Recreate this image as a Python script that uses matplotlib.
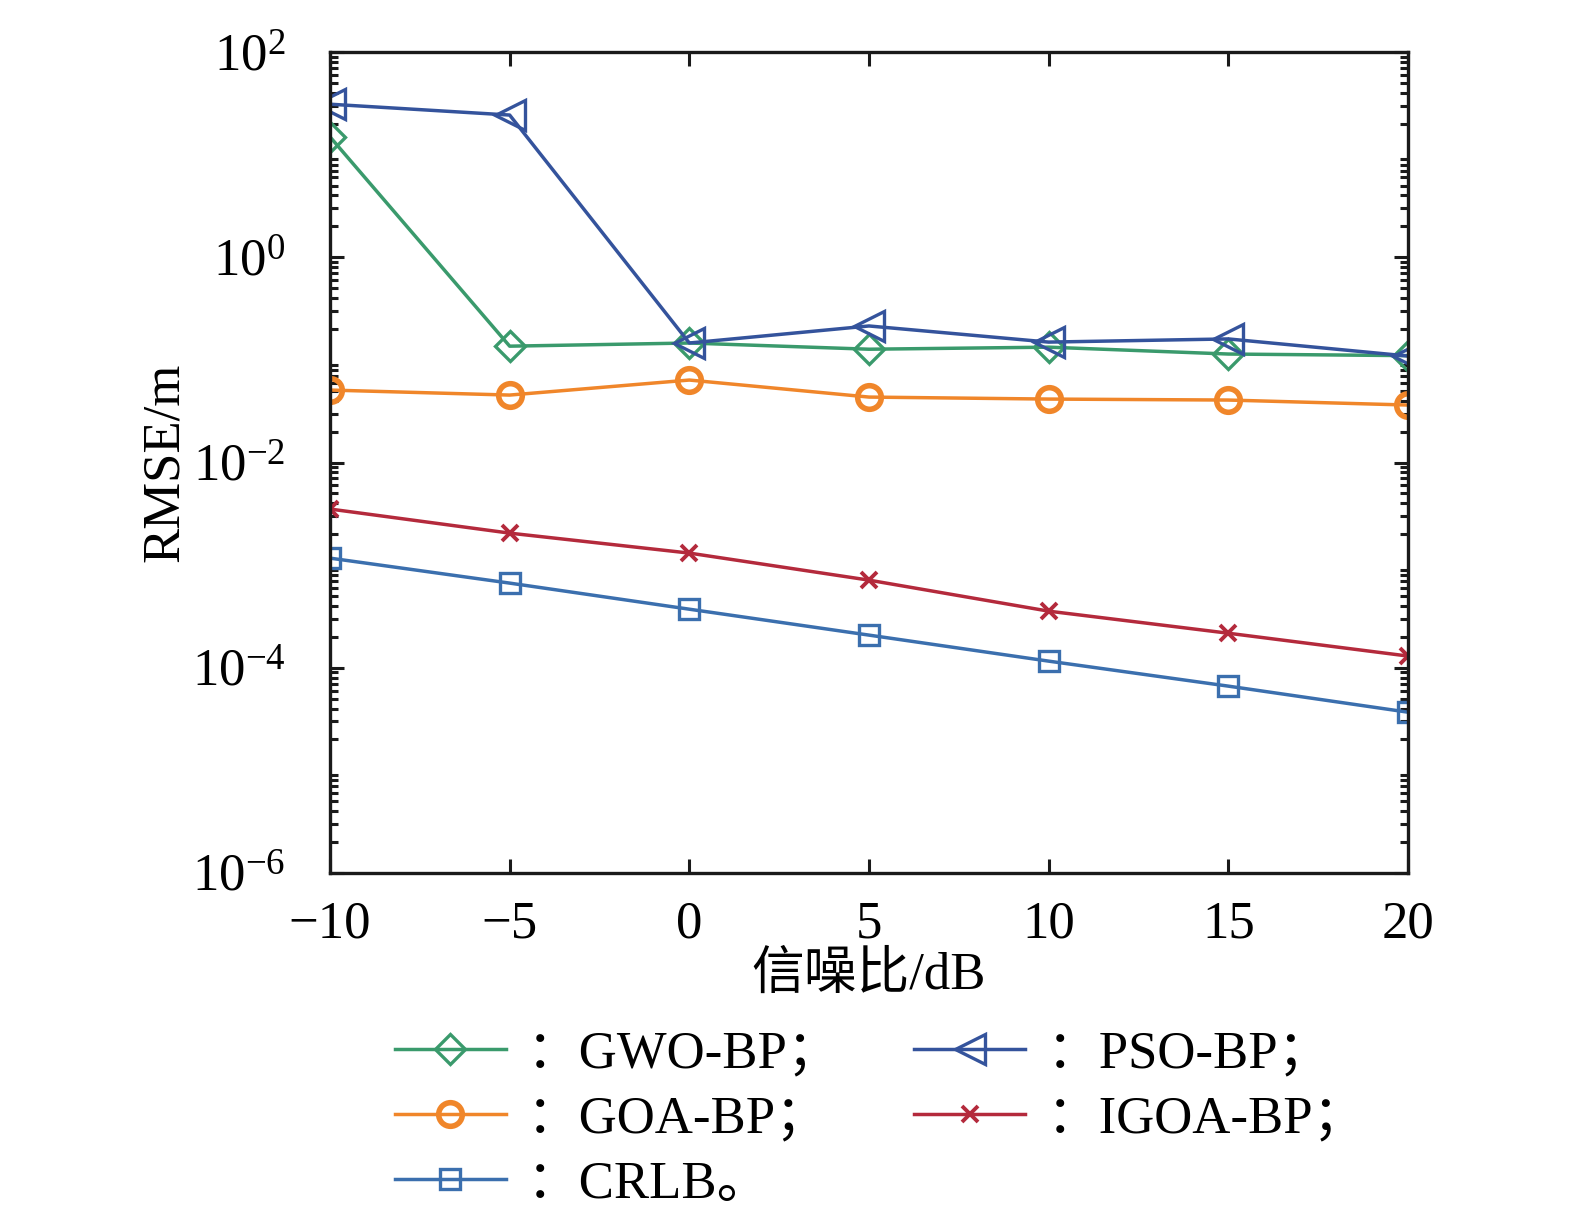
import matplotlib
matplotlib.use("Agg")
import matplotlib.pyplot as plt
from matplotlib.ticker import LogLocator, NullFormatter, FixedLocator

plt.rcParams['font.family'] = ['Liberation Serif', 'Noto Sans CJK SC', 'DejaVu Sans']
plt.rcParams['mathtext.fontset'] = 'custom'
plt.rcParams['mathtext.rm'] = 'Liberation Serif'
plt.rcParams['mathtext.it'] = 'Liberation Serif:italic'
plt.rcParams['axes.unicode_minus'] = True

snr = [-10, -5, 0, 5, 10, 15, 20]
gwo = [14.9, 0.136, 0.146, 0.127, 0.133, 0.114, 0.110]
pso = [31.0, 24.3, 0.146, 0.214, 0.149, 0.160, 0.109]
goa = [0.0508, 0.0454, 0.0636, 0.0434, 0.0415, 0.0406, 0.0363]
igoa = [0.00352, 0.00205, 0.00131, 0.000714, 0.000356, 0.000217, 0.000130]
crlb = [0.00117, 0.000668, 0.000372, 0.000208, 0.000116, 0.0000662, 0.0000369]
xticks = [-10, -5, 0, 5, 10, 15, 20]
xticklabels = ['\u221210', '\u22125', '0', '5', '10', '15', '20']
yticks = [1e-6, 1e-4, 1e-2, 1e0, 1e2]
yticklabels = [r'$10^{-6}$', r'$10^{-4}$', r'$10^{-2}$', r'$10^{0}$', r'$10^{2}$']

c_gwo = '#3a9a6c'
c_pso = '#34539c'
c_goa = '#f0862a'
c_igoa = '#b42a3c'
c_crlb = '#3b6fae'

fig = plt.figure(figsize=(15.75, 12.08), dpi=100)
ax = fig.add_axes([330/1575, 1-873/1208, (1408-330)/1575, (873-52)/1208])

lw = 2.5
h_gwo, = ax.plot(snr, gwo, color=c_gwo, lw=lw, marker='D', ms=15, mfc='none', mec=c_gwo, mew=2.4)
h_pso, = ax.plot(snr, pso, color=c_pso, lw=lw, marker='<', ms=22, mfc='none', mec=c_pso, mew=2.4)
h_goa, = ax.plot(snr, goa, color=c_goa, lw=lw, marker='o', ms=17, mfc='none', mec=c_goa, mew=4.0)
h_igoa, = ax.plot(snr, igoa, color=c_igoa, lw=lw, marker='x', ms=11, mfc='none', mec=c_igoa, mew=2.8)
h_crlb, = ax.plot(snr, crlb, color=c_crlb, lw=lw, marker='s', ms=14, mfc='none', mec=c_crlb, mew=2.4)

ax.set_yscale('log')
ax.set_xlim(-10, 20)
ax.set_ylim(1e-6, 1e2)
ax.xaxis.set_major_locator(FixedLocator(xticks))
ax.set_xticklabels(xticklabels)
ax.yaxis.set_major_locator(FixedLocator(yticks))
ax.set_yticklabels(yticklabels)
ax.yaxis.set_minor_locator(LogLocator(base=10, subs=range(2, 10), numticks=100))
ax.yaxis.set_minor_formatter(NullFormatter())

for s in ax.spines.values():
    s.set_linewidth(2.4)
    s.set_color('#1a1a1a')
ax.tick_params(which='both', direction='in', top=True, right=True, width=2.2, color='#1a1a1a')
ax.tick_params(which='major', length=10, labelsize=38)
ax.tick_params(which='minor', length=6)
ax.tick_params(axis='x', which='major', pad=20)
ax.tick_params(axis='y', which='major', pad=32)

ax.set_xlabel('信噪比/dB', fontsize=38, labelpad=2)
ax.set_ylabel('RMSE/m', fontsize=38, labelpad=2)

handles = [h_gwo, h_goa, h_crlb, h_pso, h_igoa]
labels = ['：GWO-BP；', '：GOA-BP；', '：CRLB。', '：PSO-BP；', '：IGOA-BP；']
fig.legend(handles, labels, ncol=2, loc='upper left', bbox_to_anchor=(395/1575, 1-1030/1208),
           frameon=False, fontsize=38, handlelength=2.1, handletextpad=0.4,
           columnspacing=1.4, labelspacing=0.33, borderaxespad=0, borderpad=0)

fig.savefig('out.png', dpi=100)
